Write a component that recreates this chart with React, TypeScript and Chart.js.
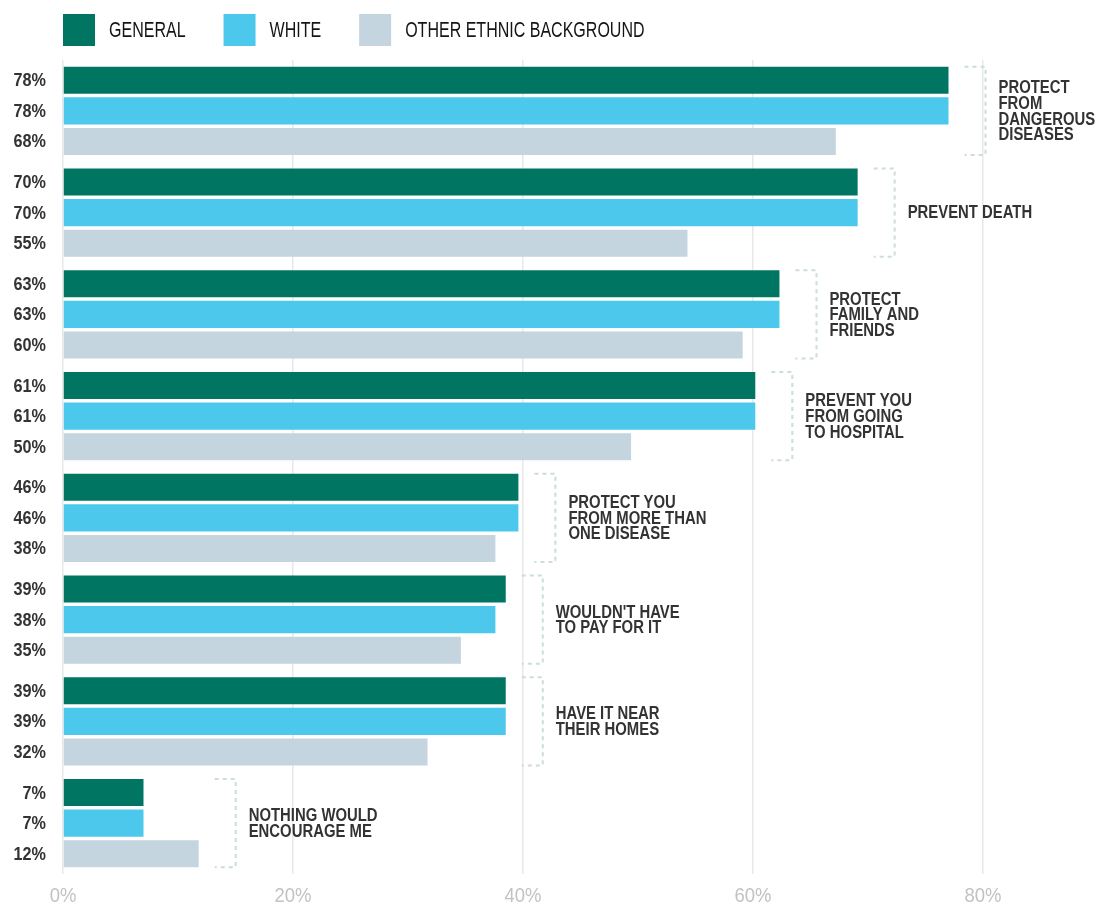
import React, { useEffect, useRef } from "react";
import { Chart, registerables } from "chart.js";

Chart.register(...registerables);

const categories: string[][] = [
  ["PROTECT", "FROM", "DANGEROUS", "DISEASES"],
  ["PREVENT DEATH"],
  ["PROTECT", "FAMILY AND", "FRIENDS"],
  ["PREVENT YOU", "FROM GOING", "TO HOSPITAL"],
  ["PROTECT YOU", "FROM MORE THAN", "ONE DISEASE"],
  ["WOULDN'T HAVE", "TO PAY FOR IT"],
  ["HAVE IT NEAR", "THEIR HOMES"],
  ["NOTHING WOULD", "ENCOURAGE ME"],
];

const seriesNames = ["GENERAL", "WHITE", "OTHER ETHNIC BACKGROUND"];

const generalValues = [77, 69.1, 62.3, 60.2, 39.6, 38.5, 38.5, 7];
const whiteValues = [77, 69.1, 62.3, 60.2, 39.6, 37.6, 38.5, 7];
const otherValues = [67.2, 54.3, 59.1, 49.4, 37.6, 34.6, 31.7, 11.8];

const generalLabels = ["78%", "70%", "63%", "61%", "46%", "39%", "39%", "7%"];
const whiteLabels = ["78%", "70%", "63%", "61%", "46%", "38%", "39%", "7%"];
const otherLabels = ["68%", "55%", "60%", "50%", "38%", "35%", "32%", "12%"];

const xTicks = [0, 20, 40, 60, 80];

const COLORS = ["#007662", "#4cc8ec", "#c4d5df"];
const FAMILY = "'Liberation Sans', Arial, sans-serif";

function drawText(
  ctx: CanvasRenderingContext2D,
  text: string,
  x: number,
  y: number,
  font: string,
  scaleX: number,
  align: "left" | "right" | "center"
): number {
  ctx.save();
  ctx.font = font;
  ctx.textAlign = "left";
  ctx.textBaseline = "middle";
  const w = ctx.measureText(text).width * scaleX;
  const left = align === "right" ? x - w : align === "center" ? x - w / 2 : x;
  ctx.translate(left, y);
  ctx.scale(scaleX, 1);
  ctx.fillText(text, 0, 0);
  ctx.restore();
  return w;
}

const overlayPlugin = {
  id: "overlay",
  afterDatasetsDraw(chart: any) {
    const ctx: CanvasRenderingContext2D = chart.ctx;
    const area = chart.chartArea;
    const xScale = chart.scales.x;
    const allLabels = [generalLabels, whiteLabels, otherLabels];
    const allValues = [generalValues, whiteValues, otherValues];
    ctx.save();

    // value labels on the left
    ctx.fillStyle = "#333333";
    allLabels.forEach((labels, di) => {
      const meta = chart.getDatasetMeta(di);
      meta.data.forEach((el: any, i: number) => {
        drawText(ctx, labels[i], area.left - 17, el.y + 1, `bold 18px ${FAMILY}`, 0.9, "right");
      });
    });

    // brackets and category labels
    const first = chart.getDatasetMeta(0);
    const last = chart.getDatasetMeta(2);
    categories.forEach((lines, i) => {
      const maxVal = Math.max(...allValues.map((v) => v[i]));
      const e0: any = first.data[i];
      const e2: any = last.data[i];
      const top = e0.y - e0.height / 2;
      const bottom = e2.y + e2.height / 2;
      const x0 = xScale.getPixelForValue(maxVal) + 16;
      const x1 = x0 + 21;
      ctx.save();
      ctx.setLineDash([4, 4]);
      ctx.lineWidth = 2;
      ctx.strokeStyle = "#cbded9";
      ctx.beginPath();
      ctx.moveTo(x0, top);
      ctx.lineTo(x1, top);
      ctx.lineTo(x1, bottom);
      ctx.lineTo(x0, bottom);
      ctx.stroke();
      ctx.restore();

      const center = (top + bottom) / 2;
      const lh = 15.6;
      ctx.fillStyle = "#333333";
      lines.forEach((line, li) => {
        const y = center + (li - (lines.length - 1) / 2) * lh + 1;
        drawText(ctx, line, x1 + 13, y, `bold 17.5px ${FAMILY}`, 0.85, "left");
      });
    });

    // x tick labels
    ctx.fillStyle = "#c2c2c2";
    xTicks.forEach((v) => {
      drawText(ctx, `${v}%`, xScale.getPixelForValue(v), 896, `21px ${FAMILY}`, 0.88, "center");
    });

    // legend
    let x = area.left;
    seriesNames.forEach((name, i) => {
      ctx.fillStyle = COLORS[i];
      ctx.fillRect(x, 14, 32, 32);
      ctx.fillStyle = "#151515";
      const tx = x + 32 + 14;
      const w = drawText(ctx, name, tx, 31, `21.5px ${FAMILY}`, 0.745, "left");
      x = tx + w + 38;
    });
    ctx.restore();
  },
};

export default function App() {
  const ref = useRef<HTMLCanvasElement | null>(null);
  useEffect(() => {
    if (!ref.current) return;
    const chart = new Chart(ref.current, {
      type: "bar",
      data: {
        labels: categories.map((c) => c.join(" ")),
        datasets: [
          { label: seriesNames[0], data: generalValues, backgroundColor: COLORS[0] },
          { label: seriesNames[1], data: whiteValues, backgroundColor: COLORS[1] },
          { label: seriesNames[2], data: otherValues, backgroundColor: COLORS[2] },
        ],
      },
      options: {
        indexAxis: "y",
        animation: false,
        responsive: false,
        maintainAspectRatio: false,
        datasets: {
          bar: { categoryPercentage: 0.9, barPercentage: 0.885, borderWidth: 0 },
        },
        layout: { padding: { left: 63, right: 20, top: 60, bottom: 32 } },
        plugins: {
          legend: { display: false },
          tooltip: { enabled: false },
        },
        scales: {
          x: {
            min: 0,
            max: 90,
            afterBuildTicks: (axis: any) => {
              axis.ticks = xTicks.map((v) => ({ value: v }));
            },
            border: { display: false },
            grid: { color: "#e8e8e8", lineWidth: 1.5, drawTicks: false },
            ticks: { display: false },
          },
          y: { display: false },
        },
      },
      plugins: [overlayPlugin],
    } as any);
    return () => chart.destroy();
  }, []);
  return (
    <div style={{ position: "absolute", left: 0, top: 0, width: 1118, height: 906, background: "#fff" }}>
      <canvas ref={ref} width={1118} height={906} style={{ width: 1118, height: 906, display: "block" }} />
    </div>
  );
}
